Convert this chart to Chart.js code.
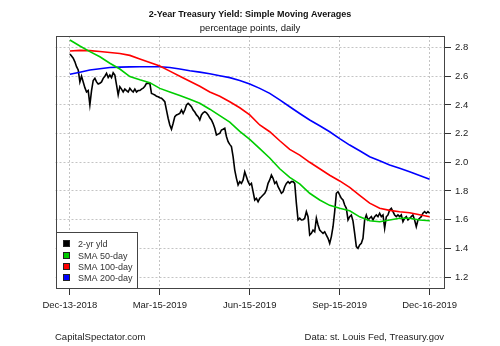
<!DOCTYPE html>
<html>
<head>
<meta charset="utf-8">
<script src="https://cdn.jsdelivr.net/npm/chart.js@4"></script>
<style>
  html, body { margin: 0; padding: 0; background: #fff; }
  #c { display: block; }
</style>
</head>
<body>
<canvas id="c" width="500" height="346"></canvas>
<script>
// ---- data ----
const titleText = '2-Year Treasury Yield: Simple Moving Averages';
const subtitleText = 'percentage points, daily';
const footerLeft = 'CapitalSpectator.com';
const footerRight = 'Data: st. Louis Fed, Treasury.gov';

const spanDays = 368; // Dec-13-2018 .. Dec-16-2019
const xTickDays = [0, 92, 184, 276, 368];
const xTickLabels = ['Dec-13-2018', 'Mar-15-2019', 'Jun-15-2019', 'Sep-15-2019', 'Dec-16-2019'];
const yTicks = [1.2, 1.4, 1.6, 1.8, 2.0, 2.2, 2.4, 2.6, 2.8];

const seriesNames = ['2-yr yld', 'SMA 50-day', 'SMA 100-day', 'SMA 200-day'];
const seriesColors = ['#000000', '#00cd00', '#ff0000', '#0000ff'];

// 2-yr yield, evenly spaced over the period
const yld = [
  2.755,2.74,2.725,2.70,2.666,2.643,2.56,2.60,2.56,2.52,
  2.49,2.50,2.40,2.50,2.57,2.585,2.56,2.545,2.55,2.56,
  2.585,2.60,2.62,2.59,2.608,2.59,2.624,2.608,2.54,2.47,
  2.527,2.51,2.49,2.51,2.50,2.49,2.515,2.50,2.49,2.51,
  2.49,2.50,2.50,2.51,2.516,2.53,2.55,2.55,2.55,2.48,
  2.475,2.469,2.46,2.457,2.45,2.446,2.435,2.422,2.364,2.307,
  2.26,2.23,2.272,2.318,2.33,2.335,2.341,2.364,2.341,2.364,
  2.40,2.411,2.40,2.387,2.364,2.35,2.33,2.318,2.295,2.33,
  2.345,2.353,2.345,2.33,2.31,2.295,2.27,2.237,2.19,2.196,
  2.202,2.225,2.23,2.237,2.18,2.144,2.125,2.109,2.039,1.946,
  1.888,1.842,1.865,1.853,1.877,1.934,1.90,1.865,1.842,1.853,
  1.795,1.737,1.749,1.725,1.749,1.76,1.772,1.784,1.807,1.853,
  1.877,1.911,1.888,1.853,1.865,1.83,1.807,1.784,1.795,1.83,
  1.853,1.865,1.853,1.865,1.865,1.853,1.714,1.598,1.61,1.598,
  1.60,1.61,1.656,1.621,1.493,1.505,1.528,1.516,1.61,1.563,
  1.528,1.516,1.505,1.516,1.493,1.47,1.435,1.482,1.551,1.656,
  1.784,1.795,1.772,1.749,1.737,1.702,1.679,1.598,1.621,1.633,
  1.59,1.505,1.412,1.40,1.424,1.435,1.47,1.598,1.633,1.598,
  1.61,1.621,1.598,1.621,1.633,1.621,1.645,1.621,1.633,1.54,
  1.62,1.633,1.668,1.679,1.656,1.633,1.621,1.633,1.621,1.633,
  1.586,1.61,1.621,1.598,1.61,1.621,1.633,1.598,1.551,1.598,
  1.61,1.621,1.645,1.656,1.645,1.656,1.645
];

// moving averages, evenly spaced over the period
const sma50 = [
  2.852,2.81,2.771,2.735,2.69,2.65,2.597,2.575,2.555,2.515,
  2.49,2.465,2.44,2.411,2.37,2.325,2.28,2.215,2.16,2.095,
  2.03,1.955,1.895,1.85,1.784,1.737,1.70,1.68,1.662,1.62,
  1.593,1.586,1.598,1.61,1.61,1.598,1.593
];
const sma100 = [
  2.775,2.78,2.778,2.772,2.765,2.758,2.745,2.72,2.695,2.671,
  2.635,2.60,2.565,2.53,2.49,2.46,2.422,2.38,2.33,2.26,
  2.213,2.15,2.09,2.05,2.00,1.955,1.91,1.87,1.825,1.77,
  1.715,1.68,1.665,1.655,1.648,1.635,1.621
];
const sma200 = [
  2.613,2.628,2.643,2.652,2.66,2.663,2.665,2.666,2.666,2.666,
  2.66,2.65,2.638,2.628,2.617,2.603,2.59,2.57,2.545,2.515,
  2.48,2.435,2.387,2.34,2.295,2.255,2.213,2.165,2.12,2.08,
  2.039,2.01,1.981,1.958,1.934,1.908,1.882
];

// ---- build ----
function toXY(arr) {
  const n = arr.length - 1;
  return arr.map((v, i) => ({ x: i * spanDays / n, y: v }));
}
const seriesData = [yld, sma50, sma100, sma200];
const FONT = '"Liberation Sans", Arial, Helvetica, sans-serif';
const pad = spanDays * 0.04;

const frame = {
  id: 'frame',
  afterDraw(chart) {
    const ctx = chart.ctx, a = chart.chartArea;
    ctx.save();
    // plot box
    ctx.strokeStyle = '#444';
    ctx.lineWidth = 1;
    ctx.strokeRect(Math.round(a.left) + 0.5, Math.round(a.top) + 0.5,
                   Math.round(a.right - a.left) - 1, Math.round(a.bottom - a.top));
    // legend
    const lx = Math.round(a.left) + 0.5, ly = 232.5, lw = 81, lh = Math.round(a.bottom) - 232;
    ctx.fillStyle = '#fff';
    ctx.fillRect(lx, ly, lw, lh);
    ctx.strokeRect(lx, ly, lw, lh);
    ctx.font = '9px ' + FONT;
    ctx.textBaseline = 'middle';
    ctx.textAlign = 'left';
    for (let i = 0; i < seriesNames.length; i++) {
      const cy = 244.3 + i * 11.3;
      ctx.fillStyle = seriesColors[i];
      ctx.fillRect(63.5, Math.round(cy) - 3.5, 6, 6);
      ctx.strokeStyle = '#222';
      ctx.strokeRect(63.5, Math.round(cy) - 3.5, 6, 6);
      ctx.fillStyle = '#333';
      ctx.fillText(seriesNames[i], 78, cy + 0.5);
    }
    // titles
    ctx.fillStyle = '#111';
    ctx.textAlign = 'center';
    ctx.font = 'bold 9px ' + FONT;
    ctx.fillText(titleText, 250, 15);
    ctx.font = '9.5px ' + FONT;
    ctx.fillText(subtitleText, 250, 28.5);
    // footer
    ctx.fillStyle = '#222';
    ctx.textAlign = 'left';
    ctx.fillText(footerLeft, 55, 337.5);
    ctx.textAlign = 'right';
    ctx.fillText(footerRight, 444, 337.5);
    ctx.restore();
  }
};

const gridOpts = {
  color: '#c4c4c4', lineWidth: 1, dash: [2, 2], borderDash: [2, 2],
  drawTicks: true, tickLength: 7, tickColor: '#333', tickWidth: 1, tickBorderDash: []
};

new Chart(document.getElementById('c'), {
  type: 'line',
  data: {
    datasets: seriesData.map((arr, i) => ({
      label: seriesNames[i],
      data: toXY(arr),
      borderColor: seriesColors[i],
      backgroundColor: seriesColors[i],
      borderWidth: 1.6,
      pointRadius: 0,
      tension: 0,
      fill: false,
      order: i === 0 ? 10 : i
    }))
  },
  options: {
    responsive: false,
    animation: false,
    devicePixelRatio: 1,
    layout: { padding: { left: 55.5, top: 36, right: 0, bottom: 0 } },
    plugins: { legend: { display: false }, tooltip: { enabled: false }, title: { display: false } },
    scales: {
      x: {
        type: 'linear',
        position: 'bottom',
        min: -pad,
        max: spanDays + pad,
        afterBuildTicks: s => { s.ticks = xTickDays.map(v => ({ value: v })); },
        afterFit: s => { s.height = 58; },
        ticks: {
          autoSkip: false, maxRotation: 0, padding: 5,
          color: '#222', font: { family: FONT, size: 9.5 },
          callback: (v) => { const k = xTickDays.indexOf(v); return k >= 0 ? xTickLabels[k] : ''; }
        },
        grid: Object.assign({}, gridOpts),
        border: { display: true, color: 'rgba(0,0,0,0)', dash: [2, 2] }
      },
      y: {
        type: 'linear',
        position: 'right',
        min: 1.124,
        max: 2.880,
        afterBuildTicks: s => { s.ticks = yTicks.map(v => ({ value: v })); },
        afterFit: s => { s.width = 56; },
        ticks: {
          padding: 4, color: '#222', font: { family: FONT, size: 9.5 },
          callback: v => v.toFixed(1)
        },
        grid: Object.assign({}, gridOpts),
        border: { display: true, color: 'rgba(0,0,0,0)', dash: [2, 2] }
      }
    }
  },
  plugins: [frame]
});
</script>
</body>
</html>
